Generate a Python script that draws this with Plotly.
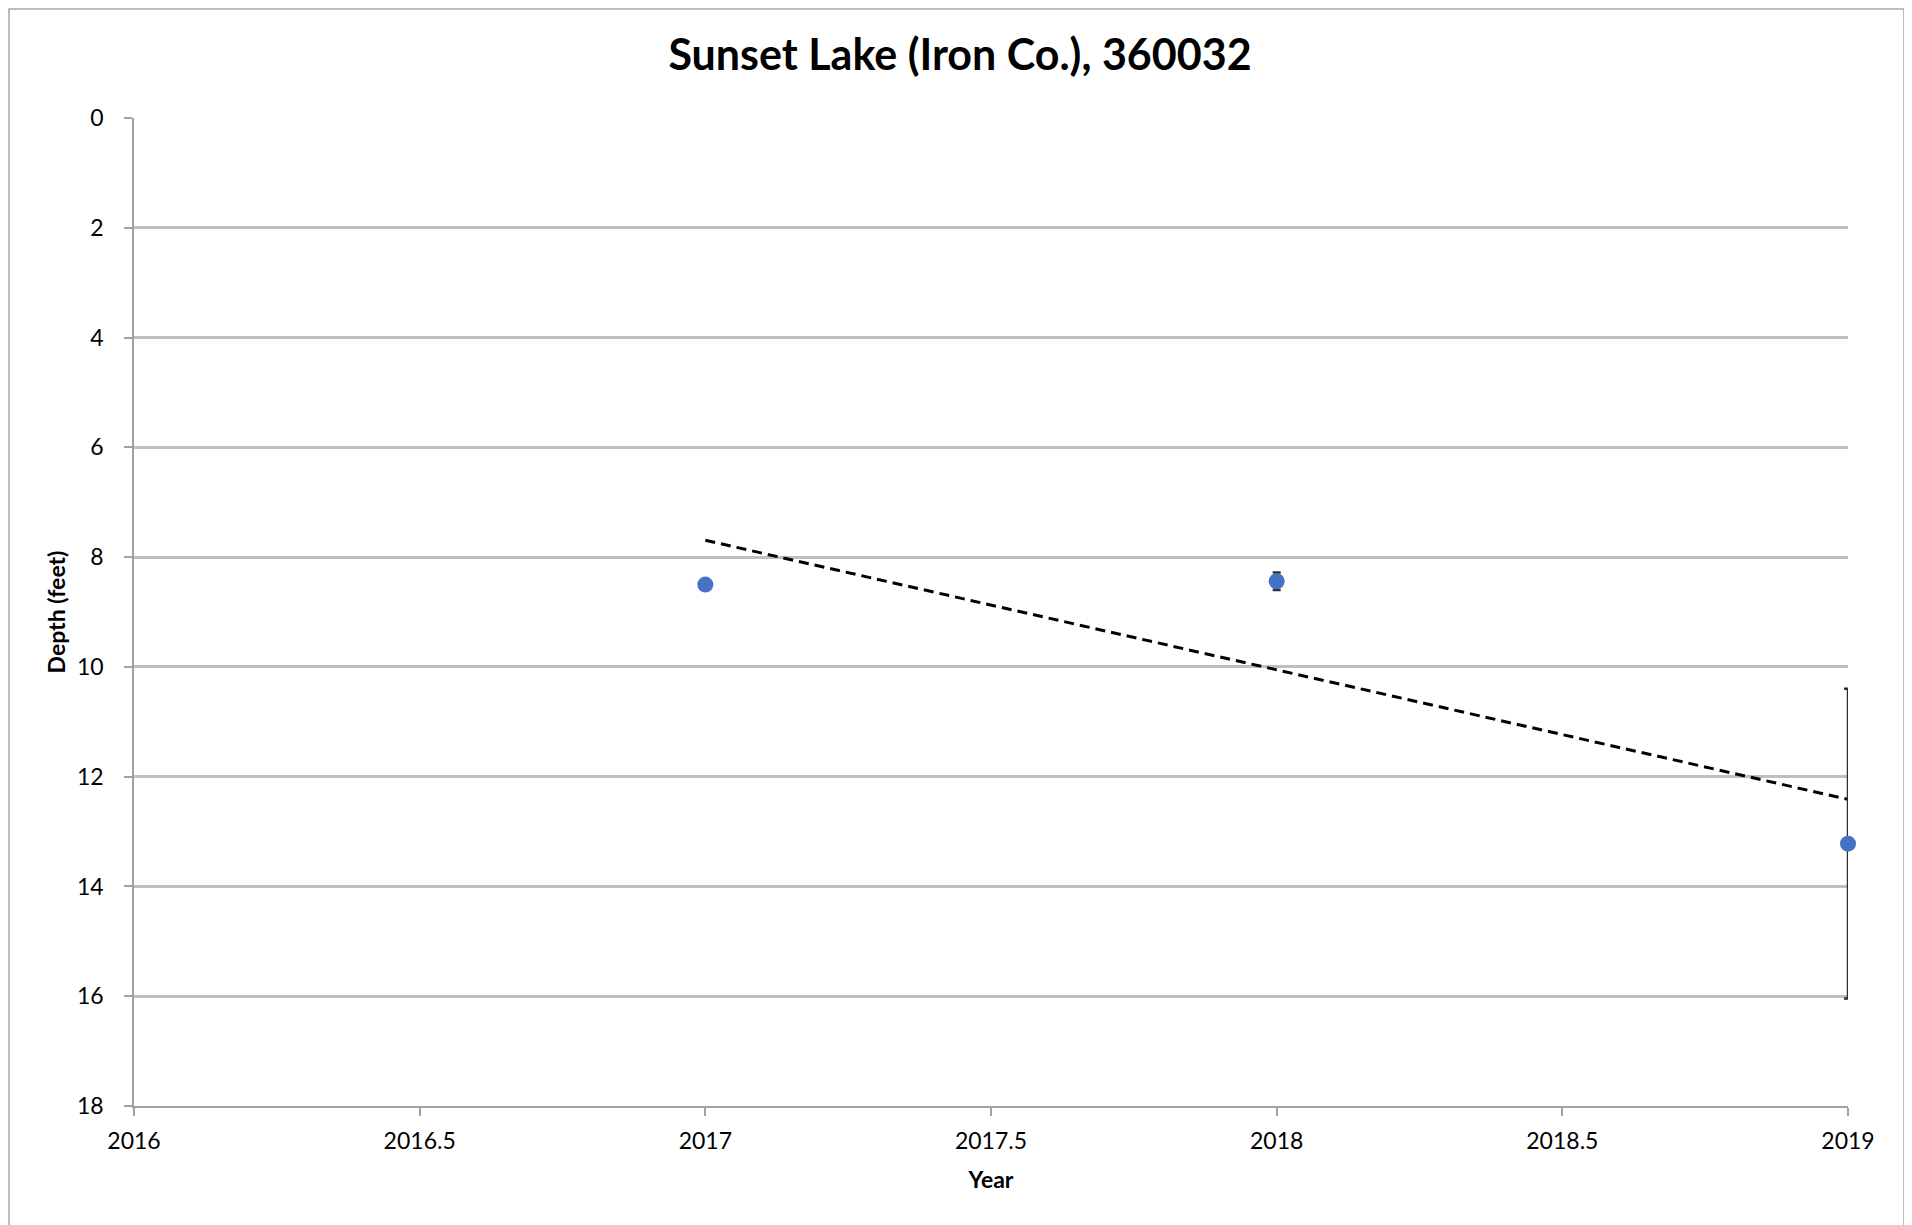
import numpy as np
import plotly.graph_objects as go

years = [2017, 2018, 2019]
depth_ft = [8.50, 8.44, 13.22]
depth_err = [0.0, 0.16, 2.82]

x_ticks = [2016, 2016.5, 2017, 2017.5, 2018, 2018.5, 2019]
y_ticks = [0, 2, 4, 6, 8, 10, 12, 14, 16, 18]

title_text = "Sunset Lake (Iron Co.), 360032"
x_title = "Year"
y_title = "Depth (feet)"

# Linear trendline (least squares, as in the spreadsheet trendline)
slope, intercept = np.polyfit(years, depth_ft, 1)
trend_x = [min(years), max(years)]
trend_y = [slope * v + intercept for v in trend_x]

FONT = "Lato"
W, H = 1904, 1217
L, R, T, B = 126, 64, 110, 119
PW, PH = W - L - R, H - T - B

fig = go.Figure()
fig.add_trace(go.Scatter(
    x=trend_x, y=trend_y, mode="lines",
    line=dict(color="black", width=3, dash="10px,6px"),
    hoverinfo="skip", showlegend=False, cliponaxis=False,
))
fig.add_trace(go.Scatter(
    x=years, y=depth_ft, mode="markers",
    marker=dict(color="#4472C4", size=16),
    error_y=dict(type="data", array=depth_err, visible=True,
                 color="#303030", thickness=2.5, width=4),
    showlegend=False, cliponaxis=False,
))

fig.update_layout(
    width=W, height=H,
    margin=dict(l=L, r=R, t=T, b=B),
    paper_bgcolor="white", plot_bgcolor="white",
    title=dict(text=f"<b>{title_text}</b>", x=0.5, xanchor="center",
               y=1 - 47 / H, yanchor="middle",
               font=dict(family=FONT, size=43, color="black", weight=900)),
    font=dict(family=FONT, color="black"),
    shapes=[dict(type="rect", xref="paper", yref="paper",
                 x0=(1 - L) / PW, x1=(W - 8 - L) / PW,
                 y0=-0.3, y1=1 + (T - 1) / PH,
                 line=dict(color="#a6a6a6", width=1.5), layer="below")],
)
fig.update_xaxes(
    range=[2016, 2019], tickvals=x_ticks,
    ticktext=[f"{v:g}" for v in x_ticks],
    showgrid=False, zeroline=False,
    showline=True, linecolor="#a0a0a0", linewidth=1.5,
    ticks="outside", ticklen=8, tickcolor="#a0a0a0", tickwidth=1.5,
    tickfont=dict(family=FONT, size=23, color="black"),
    ticklabelstandoff=6,
    title=dict(text=f"<b>{x_title}</b>", font=dict(family=FONT, size=23, color="black"),
               standoff=19),
)
fig.update_yaxes(
    range=[18, 0], tickvals=y_ticks,
    showgrid=True, gridcolor="#bfbfbf", gridwidth=2.5,
    zeroline=False,
    showline=True, linecolor="#a0a0a0", linewidth=1.5,
    ticks="outside", ticklen=8, tickcolor="#a0a0a0", tickwidth=1.5,
    tickfont=dict(family=FONT, size=23, color="black"),
    ticklabelstandoff=16,
    title=dict(text=f"<b>{y_title}</b>", font=dict(family=FONT, size=23, color="black"),
               standoff=5),
)

fig.write_html("out.html")
